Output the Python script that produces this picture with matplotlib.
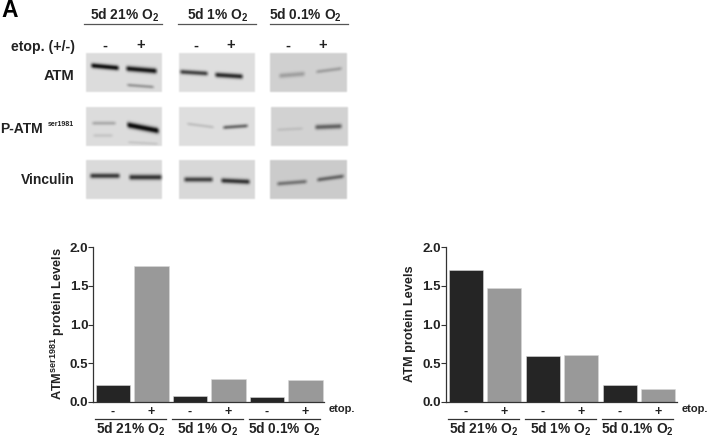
import matplotlib
matplotlib.use('Agg')
import matplotlib.pyplot as plt
import numpy as np

plt.rcParams['font.family'] = ['Liberation Sans', 'DejaVu Sans']
plt.rcParams['font.weight'] = 'bold'
plt.rcParams['mathtext.fontset'] = 'custom'
plt.rcParams['mathtext.bf'] = 'Liberation Sans:bold'
plt.rcParams['mathtext.rm'] = 'Liberation Sans:bold'
plt.rcParams['mathtext.default'] = 'bf'

conditions = ['5d 21% O$_2$', '5d 1% O$_2$', '5d 0.1% O$_2$']
etop_labels = ['-', '+', '-', '+', '-', '+']
yticks = [0.0, 0.5, 1.0, 1.5, 2.0]
p_atm_levels = [0.216, 1.754, 0.08, 0.294, 0.056, 0.28]
atm_levels = [1.706, 1.477, 0.59, 0.605, 0.216, 0.164]
bar_colors = ['#252525', '#999999'] * 3
row_labels = ['ATM', 'P-ATM', 'Vinculin']

# blot panels, pixels: x0, x1, y0, y1, background grey
panels = [
    (85.7, 162, 52.7, 92, 220), (178.3, 255, 52.7, 92, 222), (270, 347, 52.7, 92, 208),
    (85.7, 162, 106.7, 146, 220), (178.3, 255, 106.7, 146, 222), (270.5, 347.5, 106.7, 146, 210),
    (85.7, 162, 160, 199, 218), (178.3, 255, 160, 199, 216), (269.5, 347, 160, 199, 203),
]
# bands, pixels: x0, y0, x1, y1, half thickness, darkness
bands = [
    (91, 65, 118, 67.5, 2.4, 215), (126, 68, 156, 70.5, 2.6, 205), (127, 84.5, 153, 86.5, 1.6, 70),
    (180, 71.3, 207, 73, 2.2, 160), (215, 74.3, 242, 76, 2.4, 185),
    (279, 75.3, 304, 73.3, 2.4, 50), (316, 71.3, 341, 68, 1.8, 50),
    (92, 122.7, 115, 122.7, 1.8, 50), (93, 135, 112, 135, 1.8, 22),
    (127, 124.3, 158, 130.3, 2.8, 225), (128, 141.7, 157, 143.3, 1.4, 22),
    (187, 123.3, 213, 126.7, 1.6, 30), (223, 127, 247, 125.3, 1.8, 120),
    (277, 129.3, 302, 128, 1.6, 20), (315, 126.7, 341, 125.7, 2.4, 115),
    (90, 175.3, 119, 175.3, 2.4, 165), (129, 176.7, 161, 176.7, 2.6, 170),
    (184, 179, 212, 179, 2.4, 155), (221, 180, 249, 181.3, 2.4, 170),
    (277, 183.3, 306, 181, 2.0, 90), (317, 179.3, 343, 175.7, 2.0, 105),
]

W, H = 709, 438
fig = plt.figure(figsize=(W / 100, H / 100), dpi=100, facecolor='white')

# western blot panels are rendered into one background image
canvas = np.full((H, W), 255.0)
yy, xx = np.mgrid[0:H, 0:W]
for x0, x1, y0, y1, grey in panels:
    canvas[(xx >= x0) & (xx < x1) & (yy >= y0) & (yy < y1)] = grey
for x0, y0, x1, y1, half, dark in bands:
    centre = y0 + (y1 - y0) * (xx - x0) / (x1 - x0)
    across = np.exp(-((yy - centre) / half) ** 2)
    along = np.clip((xx - x0 + 2) / 4, 0, 1) * np.clip((x1 - xx + 2) / 4, 0, 1)
    canvas -= dark * across * along
canvas = np.clip(canvas, 12, 255)
# the scan is soft, blur a bit
for axis in (0, 1):
    canvas = (np.roll(canvas, 1, axis) + 2 * canvas + np.roll(canvas, -1, axis)) / 4

bg = fig.add_axes([0, 0, 1, 1])
bg.imshow(canvas, cmap='gray', vmin=0, vmax=255, extent=(0, W, H, 0), interpolation='bilinear', aspect='auto')
bg.set_xlim(0, W)
bg.set_ylim(H, 0)
bg.axis('off')

text_color = '#222222'
bg.text(1.5, 10.5, 'A', fontsize=16.5, color='black', va='center', ha='left')
headers = [(125, 15, 84.3, 162), (217.5, 15, 178, 255.7), (305, 15, 270, 347.7)]
for cond, (tx, ty, lx0, lx1) in zip(conditions, headers):
    bg.text(tx, ty, cond, fontsize=9.9, color=text_color, ha='center', va='center')
    bg.plot([lx0, lx1], [24, 24], color='#555555', lw=0.9)
bg.text(75, 46.5, 'etop. (+/-)', fontsize=10.2, color=text_color, ha='right', va='center')
for x, s in zip([104.5, 141, 195.5, 230.5, 288, 322.5], etop_labels):
    bg.text(x, 45.5, s, fontsize=10.5, color=text_color, ha='center', va='center')
bg.text(74, 76.5, row_labels[0], fontsize=10.6, color=text_color, ha='right', va='center')
bg.text(0, 129, row_labels[1], fontsize=10, color=text_color, ha='left', va='center')
bg.text(47.5, 124, 'ser1981', fontsize=5, color=text_color, ha='left', va='center')
bg.text(75, 180.5, row_labels[2], fontsize=10, color=text_color, ha='right', va='center')


def draw_bars(left, values, ylabel, label_x):
    ax = fig.add_axes([left / W, 1 - 401.7 / H, 230.7 / W, 154.4 / H])
    ax.patch.set_alpha(0)
    ax.bar(range(6), values, width=0.89, color=bar_colors, edgecolor='#d8d8d8', linewidth=0.4)
    ax.set_xlim(-0.51, 5.48)
    ax.set_ylim(0, 2.0)
    ax.set_yticks(yticks)
    ax.set_yticklabels(['%.1f' % t for t in yticks], fontsize=9.5, color=text_color)
    ax.set_xticks(range(6))
    ax.set_xticklabels(etop_labels, fontsize=9, color=text_color)
    ax.tick_params(axis='x', length=0, pad=3)
    ax.tick_params(axis='y', length=3.5, width=0.8, pad=0.2, color='#333333')
    for side in ['top', 'right']:
        ax.spines[side].set_visible(False)
    for side in ['left', 'bottom']:
        ax.spines[side].set_color('#333333')
        ax.spines[side].set_linewidth(0.9)
    trans = ax.get_xaxis_transform()
    for i, cond in enumerate(conditions):
        ax.plot([2 * i - 0.46, 2 * i + 1.38], [-0.112, -0.112], transform=trans, color='#333333', lw=0.9, clip_on=False)
        ax.text(2 * i + 0.46, -0.178, cond, transform=trans, fontsize=9.9, color=text_color, ha='center', va='center')
    ax.text(5.6, -0.05, 'etop.', transform=trans, fontsize=8, color=text_color, ha='left', va='center')
    bg.text(label_x, 324, ylabel, rotation=90, fontsize=9.2, color=text_color, ha='center', va='center')


draw_bars(93.3, p_atm_levels, 'ATM$^{ser1981}$ protein Levels', 58)
draw_bars(446, atm_levels, 'ATM protein Levels', 410.5)

fig.savefig('out.png', dpi=100)
